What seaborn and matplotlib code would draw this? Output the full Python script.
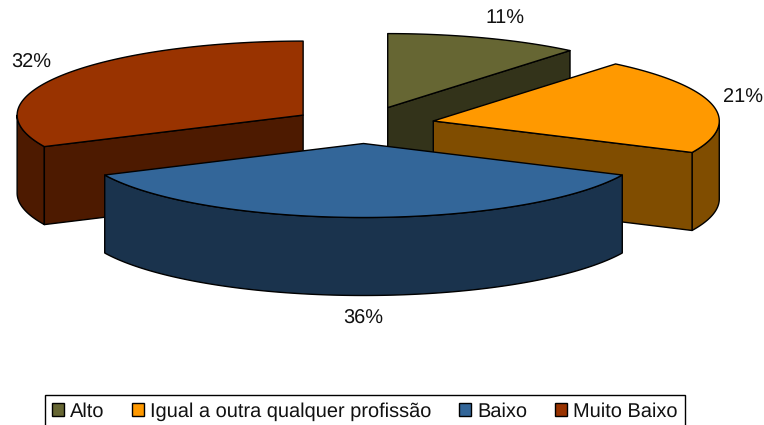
import numpy as np
import matplotlib
matplotlib.use("Agg")
import matplotlib.pyplot as plt
from matplotlib.patches import Polygon, Patch
import seaborn as sns

categories = ["Alto", "Igual a outra qualquer profissão", "Baixo", "Muito Baixo"]
values = [11, 21, 36, 32]
colors = ["#666633", "#FF9900", "#336699", "#993300"]
draw_order = [0, 1, 3, 2]
label_xy = [(505, 19), (743, 98), (363, 319), (31, 63)]

# pie geometry in figure pixels
CX, CY = 363.5, 125.0
RX, RY = 286.0, 74.0
EXPLODE = 0.25
DEPTH = 78.0

sns.set_theme(style="white")
plt.rcParams["font.family"] = ["Liberation Sans", "DejaVu Sans"]
plt.rcParams["text.hinting"] = "no_hinting"
plt.rcParams["text.hinting_factor"] = 1

palette = sns.color_palette(colors)
dark = [tuple(c * 0.5 for c in col) for col in palette]

fig = plt.figure(figsize=(7.64, 4.25), dpi=100, facecolor="white")
ax = fig.add_axes([0, 0, 1, 1])
ax.set_xlim(0, 764)
ax.set_ylim(425, 0)
ax.axis("off")

frac = np.array(values, dtype=float) / np.sum(values)
edges = np.concatenate([[0.0], np.cumsum(frac)]) * 2 * np.pi


def add(pts, face, z):
    ax.add_patch(Polygon(pts, closed=True, facecolor=face, edgecolor="black",
                         linewidth=1.0, joinstyle="round", zorder=z))


def arc_points(x0, y0, a, b):
    th = np.linspace(a, b, 120)
    return np.column_stack([x0 + RX * np.sin(th), y0 - RY * np.cos(th)])


for rank, i in enumerate(draw_order):
    t0, t1 = edges[i], edges[i + 1]
    mid = (t0 + t1) / 2
    x0 = CX + EXPLODE * RX * np.sin(mid)
    y0 = CY - EXPLODE * RY * np.cos(mid)
    apex = np.array([x0, y0])
    arc = arc_points(x0, y0, t0, t1)
    z = 2 + rank * 4
    # the part of the rim that faces the viewer
    r0, r1 = max(t0, np.pi / 2), min(t1, 3 * np.pi / 2)
    if r1 > r0:
        rim = arc_points(x0, y0, r0, r1)
        add(np.vstack([rim, (rim + [0, DEPTH])[::-1]]), dark[i], z)
    # only the radial walls that face the viewer
    if t1 < np.pi:
        add([apex, arc[-1], arc[-1] + [0, DEPTH], apex + [0, DEPTH]], dark[i], z + 1)
    if t0 > np.pi:
        add([apex, arc[0], arc[0] + [0, DEPTH], apex + [0, DEPTH]], dark[i], z + 1)
    add(np.vstack([apex, arc]), palette[i], z + 2)

for v, (lx, ly) in zip(values, label_xy):
    ax.text(lx, ly, f"{v}%", ha="center", va="center", fontsize=14.4,
            color="#111111", zorder=40)

handles = [Patch(facecolor=c, edgecolor="black", linewidth=1.0) for c in palette]
leg = ax.legend(handles, categories, ncol=4, loc="lower left",
                bbox_to_anchor=(45, 428), bbox_transform=ax.transData,
                fontsize=14.4, frameon=True, fancybox=False, edgecolor="black",
                framealpha=1, borderaxespad=0, borderpad=0.36,
                handlelength=0.6, handleheight=0.6, handletextpad=0.3,
                columnspacing=1.38, labelcolor="#111111")
leg.get_frame().set_linewidth(1.0)
leg.set_zorder(50)

fig.savefig("out.png", dpi=100, facecolor="white")
